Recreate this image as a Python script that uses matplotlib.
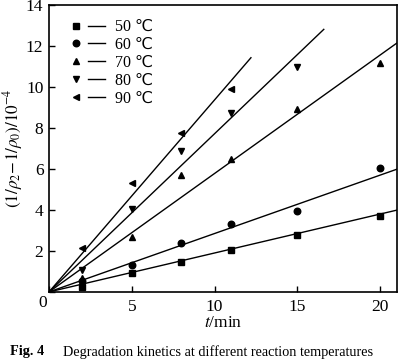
import matplotlib
matplotlib.use("Agg")
import matplotlib.pyplot as plt
from matplotlib.lines import Line2D
from matplotlib.legend_handler import HandlerTuple

plt.rcParams["font.family"] = ["Liberation Serif", "DejaVu Sans"]
plt.rcParams["mathtext.fontset"] = "stix"

# data
temps = ["50 ℃", "60 ℃", "70 ℃", "80 ℃", "90 ℃"]
markers = ["s", "o", "^", "v", "<"]
t50 = [2, 5, 8, 11, 15, 20]
y50 = [0.25, 0.93, 1.46, 2.05, 2.80, 3.72]
t60 = [2, 5, 8, 11, 15, 20]
y60 = [0.55, 1.33, 2.37, 3.30, 3.97, 6.05]
t70 = [2, 5, 8, 11, 15, 20]
y70 = [0.70, 2.70, 5.70, 6.50, 8.93, 11.17]
t80 = [2, 5, 8, 11, 15]
y80 = [1.05, 4.05, 6.88, 8.73, 10.98]
t90 = [2, 5, 8, 11]
y90 = [2.15, 5.30, 7.75, 9.90]
# linear fits through the origin: slope and end of the drawn line
slopes = [0.19, 0.285, 0.578, 0.772, 0.937]
t_end = [21, 21, 21, 16.6, 12.2]

series_t = [t50, t60, t70, t80, t90]
series_y = [y50, y60, y70, y80, y90]

fig = plt.figure(figsize=(4.0, 3.64), dpi=100)
ax = fig.add_axes([0.1225, 0.198, 0.869, 0.788])

handles = []
for t, y, m, k, te in zip(series_t, series_y, markers, slopes, t_end):
    ax.plot(t, y, linestyle="none", marker=m, color="black", markersize=4.7)
    ax.plot([0, te], [0, k * te], color="black", linewidth=1.0)
    h_marker = Line2D([], [], linestyle="none", marker=m, color="black", markersize=4.7)
    h_line = Line2D([], [], color="black", linewidth=1.0)
    handles.append((h_marker, h_line))

ax.legend(handles, temps, handler_map={tuple: HandlerTuple(ndivide=None, pad=0.2)},
          loc="upper left", bbox_to_anchor=(0.02, 0.99), frameon=False,
          fontsize=11.5, handlelength=2.4, handletextpad=0.6, labelspacing=0.12,
          borderpad=0.2)

ax.set_xlim(0, 21)
ax.set_ylim(0, 14)
ax.set_xticks([0, 5, 10, 15, 20])
ax.set_xticklabels(["", "5", "10", "15", "20"])
ax.set_yticks([0, 2, 4, 6, 8, 10, 12, 14])
ax.set_yticklabels(["", "2", "4", "6", "8", "10", "12", "14"])
ax.tick_params(direction="in", length=4, width=1, labelsize=12.5, pad=4)
ax.tick_params(axis="x", pad=5)
for s in ax.spines.values():
    s.set_linewidth(1.2)

ax.text(-0.018, -0.04, "0", transform=ax.transAxes, fontsize=12.5,
        ha="center", va="center")

ax.set_xlabel(r"$t$/min", fontsize=12.5, labelpad=0)
ax.set_ylabel(r"$(1/\rho_2\!-\!1/\rho_0)/10^{-4}$", fontsize=12.3, labelpad=1)

fig.text(0.025, 0.033, "Fig. 4", fontsize=10.3, fontweight="bold", va="center")
fig.text(0.157, 0.033, "Degradation kinetics at different reaction temperatures",
         fontsize=10.3, va="center")

fig.savefig("out.png", dpi=100)
